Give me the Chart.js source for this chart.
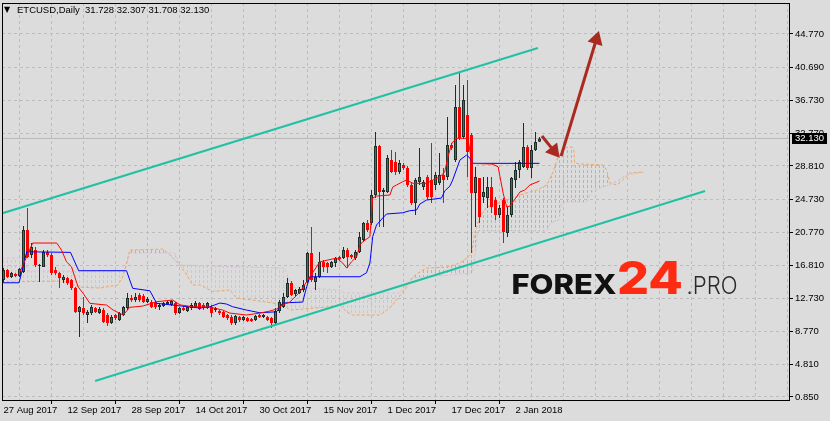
<!DOCTYPE html>
<html>
<head>
<meta charset="utf-8">
<script src="https://cdn.jsdelivr.net/npm/chart.js@4.4.0/dist/chart.umd.min.js"></script>
<style>
  html, body { margin: 0; padding: 0; background: #dcdcdc; }
  canvas { display: block; }
</style>
</head>
<body>
<canvas id="chart" width="830" height="421" style="width:830px;height:421px"></canvas>
<script>
// ETCUSD daily, bar 0 = 27 Aug 2017
const opens = [15.00,16.21,15.36,15.73,15.48,15.97,21.05,18.03,18.63,16.69,
  16.57,18.39,18.03,16.21,15.85,15.00,15.24,15.00,14.03,11.13,
  11.61,10.77,11.01,11.61,11.01,11.37,10.77,9.80,10.77,10.16,
  10.77,11.61,12.82,12.58,13.19,13.06,12.34,12.34,12.34,11.73,
  11.85,12.10,11.98,12.22,11.01,11.61,11.25,11.61,11.73,12.22,
  11.98,11.61,11.73,11.37,11.25,11.13,10.77,10.52,9.80,10.52,
  10.16,10.40,10.28,10.16,10.77,10.52,10.52,10.40,9.80,11.25,
  11.73,12.94,14.64,13.31,13.43,13.79,14.76,18.27,14.76,15.36,
  17.18,17.06,16.57,17.06,17.78,17.66,18.63,18.03,17.66,18.39,
  19.84,21.90,21.90,25.29,31.21,25.65,25.65,29.52,29.28,28.07,
  28.92,28.55,26.50,24.32,26.86,26.25,27.46,27.10,26.50,26.74,
  27.71,27.46,31.34,29.52,35.93,32.30,34.97,32.55,25.53,27.34,
  25.04,24.92,26.25,24.68,22.87,24.68,20.69,22.87,27.10,28.31,
  28.67,31.09,28.55,30.73,31.728];
const highs = [16.45,16.33,15.97,15.85,16.45,21.53,23.71,19.48,18.99,16.94,
  18.63,18.63,18.27,16.57,15.97,15.61,15.36,15.12,14.15,11.85,
  12.94,11.37,11.98,11.73,11.73,11.61,11.01,10.77,10.89,11.13,
  11.85,13.43,13.19,13.43,13.43,13.31,12.94,12.58,12.46,12.22,
  12.34,12.46,12.58,12.34,11.73,11.85,11.85,12.22,12.46,12.34,
  12.22,12.34,11.98,11.73,11.37,11.25,10.89,10.77,10.77,10.64,
  10.64,10.52,10.40,10.77,10.89,10.89,10.64,10.52,11.61,12.58,
  13.43,15.24,14.88,13.91,14.15,15.00,18.39,21.41,15.85,18.39,
  17.42,17.18,17.30,17.78,17.90,18.99,18.87,18.15,18.63,20.81,
  22.02,22.26,25.89,32.91,31.34,26.13,30.12,30.73,30.49,29.52,
  29.16,28.79,26.74,27.34,30.97,27.10,27.71,31.58,28.07,30.37,
  28.55,34.72,31.58,38.60,40.05,38.60,39.20,32.79,28.67,27.34,
  27.46,27.46,27.46,25.04,24.08,24.92,23.83,27.46,29.28,29.52,
  34.00,31.34,31.34,32.91,32.307];
const lows = [14.76,15.24,15.24,15.36,15.36,15.85,17.66,17.66,16.57,14.76,
  16.57,17.78,15.61,15.61,14.03,14.64,14.40,13.79,11.01,8.10,
  10.77,9.80,10.77,11.01,10.89,9.80,9.43,9.68,10.16,10.04,
  10.64,11.37,12.34,12.34,12.34,12.22,12.22,11.61,11.49,11.37,
  11.73,11.98,11.85,10.77,10.89,11.25,11.13,11.37,11.61,11.37,
  11.37,11.49,10.52,11.13,10.77,10.40,10.16,9.56,9.56,9.92,
  10.04,9.92,9.92,10.04,10.40,10.40,10.04,9.19,9.68,11.01,
  11.61,12.82,13.06,13.06,13.31,13.55,14.64,14.76,13.79,15.24,
  15.97,15.85,16.45,16.57,17.30,17.54,16.45,17.54,17.42,18.27,
  19.60,20.81,21.66,24.92,21.41,21.41,25.53,27.95,27.71,27.83,
  28.31,26.25,24.08,22.87,26.50,25.89,24.68,24.32,25.89,26.50,
  24.32,27.10,30.73,29.28,31.94,32.06,27.46,18.27,21.41,21.90,
  24.32,23.71,23.11,22.26,22.50,19.48,20.20,22.62,26.13,27.34,
  28.55,28.31,27.34,30.61,31.708];
const closes = [16.21,15.36,15.85,15.48,16.33,21.05,17.78,18.99,16.82,16.82,
  18.39,18.03,15.85,15.85,15.24,15.36,14.64,14.03,11.13,11.73,
  11.01,11.13,11.73,11.13,11.49,9.92,9.80,10.52,10.40,11.01,
  11.73,12.82,12.58,12.94,12.58,12.34,12.70,11.73,11.73,11.98,
  12.22,12.34,12.46,11.01,11.61,11.37,11.73,11.98,12.22,11.49,
  11.61,12.22,11.01,11.61,11.01,10.52,10.40,9.80,10.64,10.16,
  10.52,10.04,10.04,10.64,10.52,10.77,10.16,9.80,11.25,12.34,
  12.94,14.64,13.19,13.79,13.91,14.40,18.27,15.00,15.36,17.18,
  16.57,16.57,17.18,17.66,17.54,18.63,17.78,17.78,18.39,20.20,
  21.90,21.05,25.29,31.21,25.65,25.89,29.76,28.07,28.07,29.16,
  28.55,26.50,24.32,27.10,27.46,26.86,25.04,25.04,27.71,27.71,
  27.10,31.34,30.97,35.93,32.18,36.78,30.49,25.53,27.46,22.62,
  25.65,26.25,23.83,22.87,23.71,20.81,22.87,27.34,28.31,29.28,
  31.09,28.55,30.73,31.70,32.130];

// Ichimoku lines: [bar, price]
const tenkan = [[4.1,15.97],[7.3,19.48],[13.3,19.48],[14.5,18.63],[15.75,17.21],[17,16.61],[17.8,15.40],
  [18.65,14.19],[19.9,13.39],[21.6,12.18],[25.8,11.97],[27.4,11.37],[29.9,10.77],[31.6,11.70],[34.8,11.85],
  [38.3,12.38],[42.3,12.58],[44.1,12.0],[47.3,11.77],[51.6,11.73],[54.8,11.37],[56.6,11.0],[60.75,10.77],
  [64.1,11.0],[66.6,11.25],[68.25,11.49],[69.8,11.98],[71.6,12.34],[74.1,13.55],[76.6,15.40],[79.1,17.21],
  [83.25,17.66],[84.8,17.06],[85.8,16.45],[87,17.21],[88.3,17.82],[89.1,19.24],[89.8,19.63],[91.6,20.24],
  [92.3,24.92],[93.25,25.16],[96.6,25.29],[97.3,26.25],[98.25,26.50],[99.8,26.90],[100.75,27.10],
  [102.4,26.70],[105.75,26.70],[107.4,27.10],[109.1,27.50],[110.3,28.07],[111.1,29.88],[112.1,31.58],
  [113.25,32.15],[116.1,32.15],[117.1,29.12],[122,29.04],[123.65,28.71],[124.9,25.53],[125.8,23.83],
  [126.6,23.95],[128.25,25.04],[129.1,25.65],[130.3,25.89],[131.6,26.50],[134,26.98]];
const kijun = [[-0.4,14.67],[3.9,14.67],[5.8,18.42],[16.75,18.35],[18.8,16.13],[30.75,16.13],[32.3,14.0],
  [36.6,13.70],[38.3,12.18],[42.3,11.97],[49.1,11.61],[51.6,11.77],[54.1,12.22],[55.75,12.10],[57.3,11.77],
  [60.75,11.37],[64.1,11.04],[68.25,11.16],[69.8,12.22],[74.8,12.34],[75.8,14.19],[76.6,15.40],[89.1,15.40],
  [90.75,15.88],[91.6,17.06],[92.3,20.24],[93.25,21.66],[94.8,22.50],[95.75,22.99],[99.8,23.14],
  [101.6,23.39],[103.25,23.47],[104.1,24.20],[105.75,24.68],[109.5,24.92],[110.3,25.77],[111.6,26.37],
  [112.3,27.10],[114.1,29.52],[115.75,30.12],[116.6,29.76],[117.25,29.12],[134,29.12]];
const spanA = [[-0.4,14.76],[14.8,14.88],[19.1,14.15],[24.1,14.03],[28.6,14.40],[29.8,15.36],[31.6,18.63],
  [39.8,18.75],[41.1,18.27],[44.1,16.82],[45.8,15.61],[47.3,14.40],[49.1,14.40],[52.3,13.62],[56.6,13.79],
  [58.3,12.82],[62.3,12.58],[67.3,12.22],[69.8,11.98],[71.6,11.37],[80.8,11.73],[84.1,11.98],[85.8,11.13],
  [87.3,10.77],[94.1,10.77],[96.6,11.61],[100.3,13.79],[102.3,15.36],[104.1,16.0],[105.8,16.45],
  [110.8,16.57],[114.1,17.06],[115.8,17.66],[117.1,18.27],[117.8,20.69],[119.1,22.62],[120.8,23.83],
  [125.8,24.68],[129.1,25.29],[133.3,25.89],[135.8,26.50],[137.3,27.95],[138.6,29.88],[139.8,30.73],
  [141.1,31.09],[142.1,31.09],[142.6,30.73],[142.8,29.16],[144.1,29.04],[149.8,28.92],[150.8,28.31],
  [151.6,26.74],[153.3,26.50],[154.8,27.10],[156.6,27.95],[160.1,28.07]];
const spanB = [[-0.4,17.66],[5.1,17.66],[6.1,16.09],[30.3,16.09],[31.6,18.27],[42.8,18.27],[44.1,16.82],
  [70.3,16.45],[72.1,14.15],[84.1,13.79],[85.3,13.43],[99.1,13.43],[102.1,15.24],[117.3,15.85],
  [118.6,20.93],[135.8,20.93],[136.8,21.90],[138.8,22.26],[139.6,24.44],[145.8,24.44],[146.8,25.53],
  [147.6,25.89],[151.6,26.50],[155.8,27.71],[160.1,28.07]];

// drawn objects: channel and arrows, in [bar, price]
const channelUpper = [[-0.875,22.99],[133.6,43.07]];
const channelLower = [[22.9,2.78],[175.4,25.77]];
const arrowBig = [[139.4,30.0],[148.2,44.1]];
const arrowSmall = [[134.6,32.42],[137.6,30.63]];

const yTicks = [44.770, 40.690, 36.730, 32.770, 28.810, 24.730, 20.770, 16.810, 12.730, 8.770, 4.810, 0.850];
const xTickPos = [0, 16, 32, 48, 64, 80, 96, 112, 128];
const xTickLabels = ['27 Aug 2017', '12 Sep 2017', '28 Sep 2017', '14 Oct 2017', '30 Oct 2017',
  '15 Nov 2017', '1 Dec 2017', '17 Dec 2017', '2 Jan 2018'];

const BULL = '#3a7563', BULL_EDGE = '#1c2e28', BEAR = '#ff0000';
const FONT = 'Liberation Sans';

const canvas = document.getElementById('chart');
const ctx = canvas.getContext('2d');

function hatch(color) {
  const c = document.createElement('canvas');
  c.width = 4; c.height = 5;
  const g = c.getContext('2d');
  g.fillStyle = color;
  g.fillRect(3, 0, 1, 3);
  return ctx.createPattern(c, 'repeat');
}

const pts = arr => arr.map(p => ({ x: p[0], y: p[1] }));
const isBull = i => closes[i] >= opens[i];
const lastBar = closes.length - 1;
const noPad = s => { s.paddingLeft = 0; s.paddingRight = 0; s.paddingTop = 0; s.paddingBottom = 0; };

const decor = {
  id: 'decor',
  afterDraw(chart) {
    const c = chart.ctx, a = chart.chartArea, y = chart.scales.y;
    c.save();
    // plot frame
    c.strokeStyle = '#000';
    c.lineWidth = 1;
    c.strokeRect(a.left + 0.5, a.top + 0.5, a.right - a.left - 1, a.bottom - a.top);
    // title
    c.fillStyle = '#000';
    c.font = '8px "DejaVu Sans"';
    c.textBaseline = 'alphabetic';
    c.fillText('\u25BC', 4, 12);
    c.font = '9.5px "' + FONT + '"';
    c.fillText('ETCUSD,Daily  31.728 32.307 31.708 32.130', 17, 13);
    // current price tag
    const py = Math.round(y.getPixelForValue(closes[lastBar]));
    c.fillStyle = '#000';
    c.fillRect(792, py - 5, 35, 11);
    c.fillStyle = '#fff';
    c.font = '9.5px "' + FONT + '"';
    c.textBaseline = 'middle';
    c.fillText(closes[lastBar].toFixed(3), 795, py + 0.5);
    // watermark
    const fit = (text, font, color, x, w) => {
      c.font = font;
      const m = c.measureText(text).width;
      c.save();
      c.translate(x, 293.5);
      c.scale(w / m, 1);
      c.fillStyle = color;
      c.textBaseline = 'alphabetic';
      c.fillText(text, 0, 0);
      c.restore();
    };
    fit('FOREX', '800 27.5px Inter', '#111111', 511.5, 105);
    fit('24', '800 45px Inter', '#ff2a12', 617, 66);
    fit('.PRO', '300 23.5px Inter', '#2a2a2a', 686.5, 51);
    c.restore();
  }
};

new Chart(canvas, {
  type: 'line',
  data: {
    datasets: [
      { type: 'line', data: pts(arrowBig), borderColor: '#ab2a1f', borderWidth: 3, pointRadius: 0, order: 0 },
      { type: 'line', data: pts(arrowSmall), borderColor: '#ab2a1f', borderWidth: 3, pointRadius: 0, order: 0 },
      { type: 'line', data: [pts(arrowBig)[1], pts(arrowSmall)[1]], showLine: false, order: 0,
        pointStyle: 'triangle', pointRadius: 9, pointBorderWidth: 0,
        pointRotation: [17, 141], pointBackgroundColor: '#ab2a1f' },
      { type: 'line', data: pts(channelUpper), borderColor: '#22c1a3', borderWidth: 2, pointRadius: 0, order: 1 },
      { type: 'line', data: pts(channelLower), borderColor: '#22c1a3', borderWidth: 2, pointRadius: 0, order: 1 },
      { type: 'line', data: pts(tenkan), borderColor: '#ff0000', borderWidth: 1, pointRadius: 0, order: 2 },
      { type: 'line', data: pts(kijun), borderColor: '#0000ff', borderWidth: 1, pointRadius: 0, order: 2 },
      { type: 'bar', order: 4, grouped: false, barThickness: 3, minBarLength: 1, inflateAmount: 0,
        borderSkipped: false,
        data: opens.map((o, i) => ({ x: i, y: [o, closes[i]] })),
        borderWidth: c => isBull(c.dataIndex) ? 1 : 0,
        borderColor: BULL_EDGE,
        backgroundColor: c => isBull(c.dataIndex) ? BULL : BEAR },
      { type: 'bar', order: 5, grouped: false, barThickness: 1, inflateAmount: 0, borderWidth: 0,
        data: lows.map((l, i) => ({ x: i, y: [l, highs[i]] })),
        backgroundColor: c => isBull(c.dataIndex) ? BULL_EDGE : BEAR },
      { type: 'line', data: pts(spanA), borderColor: '#f4a460', borderWidth: 1, borderDash: [3, 2],
        pointRadius: 0, order: 7, fill: { target: 10, above: hatch('#f4a460'), below: hatch('#d8bfd8') } },
      { type: 'line', data: pts(spanB), borderColor: '#d8bfd8', borderWidth: 1, borderDash: [3, 2],
        pointRadius: 0, order: 7 },
      { type: 'line', data: [{ x: -0.375, y: closes[lastBar] }, { x: 196.625, y: closes[lastBar] }],
        borderColor: '#b8b8b8', borderWidth: 1, pointRadius: 0, order: 9 }
    ]
  },
  options: {
    responsive: false,
    devicePixelRatio: 1,
    animation: false,
    events: [],
    layout: { autoPadding: false, padding: { left: 2, top: 3, right: 0, bottom: 0 } },
    plugins: { legend: { display: false }, tooltip: { enabled: false } },
    scales: {
      x: {
        type: 'linear', min: -0.375, max: 196.625, offset: false,
        afterBuildTicks: s => { s.ticks = []; for (let v = 0; v <= 192; v += 8) s.ticks.push({ value: v }); },
        afterFit: s => { s.height = 21; noPad(s); },
        ticks: {
          autoSkip: false, maxRotation: 0, align: 'start', padding: 1, color: '#000',
          font: { family: FONT, size: 9.5 },
          callback: v => { const k = xTickPos.indexOf(v); return k >= 0 ? xTickLabels[k] : ''; }
        },
        grid: {
          color: '#bdbdbd', tickLength: 4, tickWidth: 1,
          tickColor: c => (c.tick && xTickPos.includes(c.tick.value)) ? '#000' : 'rgba(0,0,0,0)'
        },
        border: { display: false, dash: [3, 3] }
      },
      y: {
        type: 'linear', position: 'right', min: 0.487, max: 48.52,
        afterBuildTicks: s => { s.ticks = yTicks.map(v => ({ value: v })); },
        afterFit: s => { s.width = 40; noPad(s); },
        ticks: {
          autoSkip: false, padding: 2, color: '#000',
          font: { family: FONT, size: 9.5 },
          callback: v => v.toFixed(3)
        },
        grid: { color: '#bdbdbd', tickLength: 3, tickColor: '#000' },
        border: { display: false, dash: [3, 3] }
      }
    }
  },
  plugins: [decor]
});
</script>
</body>
</html>
